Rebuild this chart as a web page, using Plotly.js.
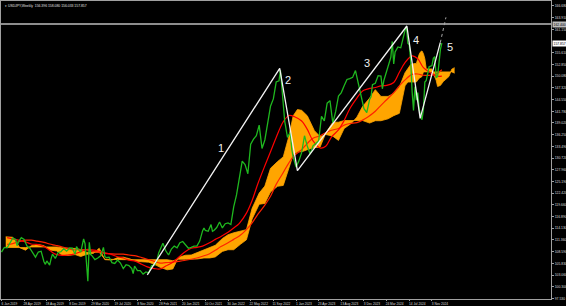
<!DOCTYPE html>
<html><head><meta charset="utf-8">
<script src="https://cdn.plot.ly/plotly-3.0.1.min.js"></script>
<style>html,body{margin:0;padding:0;background:#000;}#chart{width:566px;height:306px;}</style>
</head><body><div id="chart"></div>
<script>
// ---- data (x = weeks counted from 6 Jan 2019) ----
const xTickWeeks = [0,16,32,48,64,80,96,112,128,144,160,176,192,208,224,240,256,272,288,304];
const xTickText = ['6 Jan 2019','28 Apr 2019','18 Aug 2019','8 Dec 2019','29 Mar 2020','19 Jul 2020','8 Nov 2020','28 Feb 2021','20 Jun 2021','10 Oct 2021','30 Jan 2022','22 May 2022','11 Sep 2022','1 Jan 2023','23 Apr 2023','13 Aug 2023','3 Dec 2023','24 Mar 2024','14 Jul 2024','3 Nov 2024'];
const yTickVals = [166.68,163.91,161.15,155.61,152.85,150.08,147.32,144.55,141.78,139.02,136.25,133.49,130.72,127.96,125.19,122.42,119.66,116.89,114.13,111.36,108.59,105.83,103.06,100.30,97.53];

const priceWeeks = [0,2,4,6,8,10,11,12,14,16,18,20,22,24,26,28,30,31,32,34,35,36,38,40,42,44,46,48,50,52,53,54,56,58,59,60,61,62,63,64,66,68,70,72,73,74,76,78,80,82,84,86,88,90,92,93,94,96,98,100,102,104,106,108,110,111,112,114,116,118,120,122,124,126,128,130,132,134,136,138,140,142,143,144,146,148,149,150,152,154,156,158,160,162,164,166,168,170,172,174,176,178,180,182,184,186,188,190,192,194,196,197,198,200,202,204,205,206,208,210,212,214,216,218,220,222,224,226,228,230,232,234,236,238,240,242,244,246,248,250,252,254,256,258,260,261,262,264,266,268,269,270,272,274,275,276,277,278,280,282,284,285,286,287,288,289,290,291,292,293,294,295,296,297,298,299,300,302,304,305,306,307,308,309,310,311];
const priceValues = [108.5,109.6,109.5,110.7,111.8,111.5,110.0,110.9,111.9,111.5,109.9,109.4,108.2,107.3,108.5,108.7,106.2,105.6,106.4,105.4,106.9,108.0,107.0,108.4,108.6,109.3,108.7,109.4,109.4,108.0,109.8,109.2,108.5,111.6,110.5,105.4,101.6,110.8,107.9,107.6,106.7,107.1,107.6,109.6,107.4,107.2,107.3,106.0,105.8,106.6,105.9,104.6,105.5,105.3,104.6,103.4,105.2,104.1,104.1,103.3,103.8,103.6,105.3,105.4,106.8,108.3,109.0,110.6,108.8,107.8,109.2,109.9,109.5,110.7,111.0,110.2,109.4,109.6,109.9,109.9,111.1,113.5,114.2,113.6,113.4,115.0,113.4,113.6,114.3,115.6,114.2,115.2,115.4,115.0,119.2,122.0,126.4,130.0,129.2,127.0,134.0,135.2,136.0,138.5,133.0,135.0,139.0,143.0,144.7,148.7,149.0,151.5,147.6,139.5,135.6,136.8,132.8,131.0,128.6,130.0,132.0,136.0,133.5,131.7,133.6,134.3,134.8,140.6,139.5,143.7,144.3,139.0,141.7,145.4,146.2,147.8,149.3,149.5,149.8,151.4,148.5,144.9,142.4,141.5,144.6,145.2,148.1,148.4,150.2,150.1,147.1,149.0,151.3,153.3,154.6,158.3,153.0,155.8,157.0,156.8,159.8,160.9,161.8,157.9,157.5,153.8,146.5,142.0,147.6,144.4,146.2,142.3,140.8,139.8,142.2,148.7,149.1,152.3,152.6,154.3,154.7,149.8,150.0,153.6,156.4,157.9];

const maWeeks = [4,8,12,17,21,25,30,34,38,43,47,51,56,60,64,69,73,77,82,86,90,95,99,103,108,112,116,121,125,129,134,138,142,147,151,155,160,164,168,173,177,181,186,190,194,199,203,207,212,216,220,225,229,233,238,242,246,251,255,259,264,268,272,277,281,285,290,294,298,303,307,311];
const maFast = [111.9,111.6,111.3,110.9,110.4,110.3,109.8,108.9,108.0,107.7,107.8,108.0,108.6,109.1,109.0,108.7,108.3,108.0,107.4,107.1,106.6,106.3,105.6,105.0,104.6,104.5,105.2,106.1,107.2,108.4,109.4,109.6,109.9,110.7,111.5,112.2,113.2,114.2,115.3,117.7,120.7,124.6,128.9,132.2,135.6,139.3,140.8,140.5,139.5,137.5,134.8,133.1,133.5,135.7,137.4,139.6,142.4,144.9,146.6,147.1,147.4,147.8,147.9,148.6,151.0,153.3,154.9,154.2,152.1,150.9,150.1,150.1];
const maSlow = [110.3,110.5,110.9,111.3,111.3,111.1,110.8,110.4,110.1,109.7,109.3,109.0,109.1,109.0,108.7,108.4,108.2,108.1,108.0,108.0,107.8,107.6,107.2,106.8,106.3,105.9,106.0,106.1,106.3,106.5,106.8,107.1,107.5,108.1,108.9,109.8,110.7,111.5,112.3,113.8,115.4,117.4,119.6,121.7,124.5,127.3,129.6,131.4,132.7,134.2,135.4,136.0,136.7,137.3,137.7,138.5,138.9,139.1,139.7,140.5,141.8,143.2,144.5,146.2,147.8,149.2,150.5,150.6,150.3,150.3,150.6,151.6];

const cloudWeeks = [3,8,13,17,21,26,30,34,39,43,47,52,56,60,65,69,73,78,82,86,91,95,99,104,108,112,117,121,125,130,134,138,143,147,151,156,160,164,169,173,177,182,186,190,195,199,203,206,209,212,216,221,225,229,234,238,242,247,251,255,260,264,268,273,277,281,285,287,289,291,293,295,296,297,298,299,300,302,304,305,306,307,308,309,310,312,314,316,318,320];
const spanA = [112.1,112.0,109.5,108.95,110.0,110.3,110.0,109.0,108.75,107.7,107.7,107.9,107.45,107.95,108.2,109.4,106.7,106.6,107.2,107.3,106.85,106.3,106.2,106.1,105.6,104.9,104.3,104.5,107.25,107.75,107.8,108.3,109.1,109.6,110.1,111.7,112.6,113.05,113.5,113.8,118.85,122.45,124.1,128.3,129.9,131.0,135.9,140.7,142.2,142.0,140.7,137.2,135.8,136.3,135.9,134.9,137.7,138.9,140.4,142.9,144.9,146.9,145.3,145.3,146.0,147.5,150.9,151.8,152.85,153.05,153.1,155.25,155.85,156.05,155.4,154.2,151.8,151.8,151.8,150.7,149.8,149.1,147.65,147.7,147.9,148.8,149.5,150.0,151.75,152.1];
const spanB = [109.6,109.55,109.55,109.55,109.7,109.7,109.7,109.7,109.7,109.5,109.5,109.35,109.1,108.45,108.45,108.45,106.8,106.7,106.7,106.7,106.7,106.7,106.7,106.7,106.7,106.7,106.7,106.45,106.8,106.8,106.8,106.85,107.1,107.1,107.35,108.65,109.05,109.05,110.4,111.4,116.3,119.8,120.0,122.7,124.05,124.25,128.35,131.5,132.2,132.2,132.7,133.2,133.3,136.6,139.2,139.2,139.6,139.6,139.6,139.6,139.0,139.55,139.55,140.0,140.75,141.3,147.8,148.7,148.7,148.7,148.7,149.6,149.8,150.0,151.1,151.1,151.1,151.1,151.1,151.1,151.1,151.1,151.1,151.1,151.1,151.1,151.1,151.1,151.1,150.8];

const waveWeeks = [103,196.5,209,286.3,295.7,309.9];
const wavePrices = [103.1,151.95,127.75,161.95,140.1,158.0];
const extWeeks = [309.9,313.9];
const extPrices = [158.0,164.0];
const waveLabelWeeks = [154.8,202.2,258,292.5,316.5];
const waveLabelPrices = [133.1,149.2,153.2,158.7,157.0];
const waveLabelText = ['1','2','3','4','5'];
const levelPrice = 162.4;
const titleText = '\u25BE USDJPY,Weekly  156.396 158.080 156.033 157.857';
const lastPriceText = '157.857';

// ---- chart ----
const xMin = -0.35, xMax = 388.1;
const traces = [
  {x: cloudWeeks, y: spanB, mode:'lines', line:{color:'#ffa500', width:0.8}, hoverinfo:'skip'},
  {x: cloudWeeks, y: spanA, mode:'lines', line:{color:'#ffa500', width:0.8}, fill:'tonexty', fillcolor:'#ffa500', hoverinfo:'skip'},
  {x: maWeeks, y: maSlow, mode:'lines', line:{color:'#ff2200', width:1.2, shape:'spline'}},
  {x: maWeeks, y: maFast, mode:'lines', line:{color:'#ff0000', width:1.2, shape:'spline'}},
  {x: priceWeeks, y: priceValues, mode:'lines', line:{color:'#1fb81f', width:1.3}},
  {x: [xMin, xMax], y: [levelPrice, levelPrice], mode:'lines', line:{color:'#bdbdbd', width:1.5}},
  {x: waveWeeks, y: wavePrices, mode:'lines', line:{color:'#f2f2f2', width:1.3}},
  {x: extWeeks, y: extPrices, mode:'lines', line:{color:'#a8a8a8', width:1, dash:'dot'}}
];

const annotations = waveLabelText.map((t,i)=>({
  x: waveLabelWeeks[i], y: waveLabelPrices[i], xref:'x', yref:'y', text:t, showarrow:false,
  font:{family:'Liberation Sans, Arial', size:11, color:'#f0f0f0'}
}));
annotations.push({xref:'paper', yref:'paper', x:0.003, y:0.997, xanchor:'left', yanchor:'top', text:titleText, showarrow:false, font:{family:'Liberation Sans, Arial', size:3.4, color:'#e0e0e0'}});
annotations.push({xref:'paper', yref:'y', x:1.002, y:levelPrice, xanchor:'left', yanchor:'middle', text:levelPrice.toFixed(3), showarrow:false, bgcolor:'#bdbdbd', borderpad:0.5, font:{family:'Liberation Sans, Arial', size:3.4, color:'#000'}});
annotations.push({xref:'paper', yref:'y', x:1.002, y:priceValues[priceValues.length-1], xanchor:'left', yanchor:'middle', text:lastPriceText, showarrow:false, bgcolor:'#ffffff', borderpad:0.5, font:{family:'Liberation Sans, Arial', size:3.4, color:'#000'}});

const layout = {
  width:566, height:306,
  paper_bgcolor:'#000', plot_bgcolor:'#000',
  margin:{l:1, r:15, t:1, b:7, pad:0},
  showlegend:false,
  xaxis:{range:[xMin,xMax], showgrid:false, zeroline:false, showline:true, linecolor:'#a0a0a0', linewidth:1, mirror:true,
    tickmode:'array', tickvals:xTickWeeks, ticktext:xTickText, ticks:'outside', ticklen:1, tickcolor:'#a0a0a0',
    tickfont:{family:'Liberation Sans, Arial', size:3.2, color:'#dddddd'}, ticklabelshift:8, ticklabelstandoff:0, fixedrange:true},
  yaxis:{range:[97.4,167.86], side:'right', showgrid:false, zeroline:false, showline:true, linecolor:'#a0a0a0', linewidth:1, mirror:true,
    tickmode:'array', tickvals:yTickVals, ticktext:yTickVals.map(v=>v.toFixed(3)), ticks:'outside', ticklen:2, tickcolor:'#a0a0a0',
    tickfont:{family:'Liberation Sans, Arial', size:3.4, color:'#dddddd'}, ticklabelstandoff:0, fixedrange:true},
  annotations: annotations
};
Plotly.newPlot('chart', traces, layout, {staticPlot:true, displayModeBar:false});
</script></body></html>
